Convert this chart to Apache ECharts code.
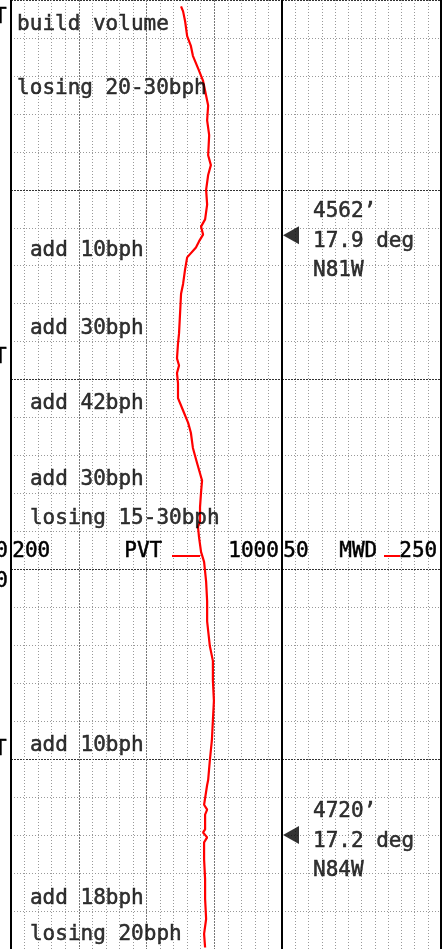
<!DOCTYPE html>
<html>
<head>
<meta charset="utf-8">
<title>PVT / MWD log</title>
<script src="https://cdn.jsdelivr.net/npm/echarts@6/dist/echarts.min.js"></script>
<style>
  html, body { margin: 0; padding: 0; background: #fff; }
  #chart { width: 442px; height: 949px; }
</style>
</head>
<body>
<div id="chart"></div>
<script>
const pvtDepth = [4501.7, 4503.0, 4505.6, 4509.5, 4512.1, 4514.7, 4518.6, 4521.3, 4523.9, 4527.8,
  4531.7, 4535.6, 4540.9, 4543.5, 4546.1, 4550.0, 4553.9, 4557.8, 4559.7, 4561.8,
  4563.6, 4565.2, 4567.8, 4570.9, 4574.8, 4577.4, 4582.7, 4587.9, 4590.5, 4594.4,
  4596.3, 4598.3, 4601.0, 4604.9, 4608.8, 4611.4, 4614.0, 4618.0, 4621.9, 4626.6,
  4629.7, 4633.6, 4637.5, 4638.8, 4641.5, 4645.4, 4648.0, 4650.6, 4653.2, 4658.4,
  4663.7, 4670.2, 4674.1, 4679.3, 4684.6, 4689.8, 4695.0, 4700.3, 4705.5, 4706.8,
  4712.0, 4713.3, 4714.6, 4718.5, 4719.3, 4720.6, 4721.9, 4726.4, 4731.6, 4736.8,
  4742.1, 4746.0, 4749.6];
const pvtValue = [702, 708, 714, 720, 731, 737, 755, 767, 773, 782,
  779, 785, 782, 790, 782, 776, 779, 773, 761, 767,
  755, 746, 720, 714, 708, 702, 699, 696, 693, 690,
  696, 690, 693, 693, 711, 723, 731, 737, 749, 764,
  761, 758, 758, 752, 755, 761, 770, 773, 776, 779,
  779, 787, 796, 796, 799, 796, 793, 787, 782, 779,
  770, 779, 773, 773, 767, 779, 770, 770, 773, 773,
  776, 770, 773];

// remarks written in the PVT track
const noteDepth = [4506.4, 4523.3, 4565.9, 4586.6, 4606.4, 4626.3, 4636.5, 4696.3, 4736.6, 4746.3];
const noteText = ['build volume', 'losing 20-30bph', 'add 10bph', 'add 30bph', 'add 42bph',
  'add 30bph', 'losing 15-30bph', 'add 10bph', 'add 18bph', 'losing 20bph'];

// MWD surveys
const surveyDepth = [4562, 4720];
const surveyInc = ['17.9', '17.2'];
const surveyAzi = ['N81W', 'N84W'];

// track scales and depth window
const pvtRange = [200, 1000];
const mwdRange = [50, 250];
const depthRange = [4500, 4750];

const chart = echarts.init(document.getElementById('chart'));
const mono = 'DejaVu Sans Mono';
const pxPerFt = 3.8267;

const minorLine = { show: true, lineStyle: { color: '#999', width: 1, type: [1, 2] } };
const majorH = { show: true, lineStyle: { color: '#333', width: 1, type: [2, 1] } };
const majorV = { show: true, lineStyle: { color: '#777', width: 1, type: [2, 1] } };
const hidden = { show: false };

const gridTop = -6.33;
const gridH = (depthRange[1] - depthRange[0]) * pxPerFt;

const yAxisBase = {
  type: 'value', inverse: true, min: depthRange[0], max: depthRange[1], interval: 50,
  axisLabel: hidden, axisTick: hidden, axisLine: hidden,
  splitLine: majorH, minorTick: { show: false, splitNumber: 5 }, minorSplitLine: minorLine
};

// plain black mono text, a touch heavier like the plotter font
const txt = (extra) => Object.assign({
  font: '21px ' + mono, fill: '#000', stroke: '#000', lineWidth: 0.5
}, extra);

const option = {
  animation: false,
  backgroundColor: '#fff',
  grid: [
    { left: 11, top: gridTop, width: 271, height: gridH },
    { left: 282, top: gridTop, width: 159, height: gridH }
  ],
  xAxis: [
    {
      gridIndex: 0, type: 'value', min: pvtRange[0], max: pvtRange[1], interval: 200,
      axisLabel: hidden, axisTick: hidden, axisLine: hidden,
      splitLine: majorV, minorTick: { show: false, splitNumber: 5 }, minorSplitLine: minorLine
    },
    {
      gridIndex: 1, type: 'value', min: mwdRange[0], max: mwdRange[1],
      interval: (mwdRange[1] - mwdRange[0]) / 12,
      axisLabel: hidden, axisTick: hidden, axisLine: hidden,
      splitLine: minorLine
    }
  ],
  yAxis: [
    Object.assign({ gridIndex: 0 }, yAxisBase),
    Object.assign({ gridIndex: 1 }, yAxisBase)
  ],
  series: [
    {
      type: 'line', xAxisIndex: 0, yAxisIndex: 0,
      data: pvtDepth.map((d, i) => [pvtValue[i], d]),
      showSymbol: false, symbol: 'none',
      lineStyle: { color: '#ff0000', width: 2.2 },
      z: 5
    },
    {
      type: 'scatter', xAxisIndex: 0, yAxisIndex: 0, symbolSize: 0,
      data: noteDepth.map((d, i) => ({ value: [d < 4530 ? 218 : 256, d], name: noteText[i] })),
      label: {
        show: true, position: 'right', distance: 0, formatter: p => p.name,
        fontFamily: mono, fontSize: 21, color: '#000',
        textBorderColor: '#000', textBorderWidth: 0.5
      },
      z: 6
    },
    {
      type: 'scatter', xAxisIndex: 1, yAxisIndex: 1,
      symbol: 'triangle', symbolRotate: 90, symbolSize: [18, 16],
      itemStyle: { color: '#000' },
      data: surveyDepth.map((d, i) => ({
        value: [61.3, d], name: d + '\u2019\n' + surveyInc[i] + ' deg\n' + surveyAzi[i]
      })),
      label: {
        show: true, position: 'right', distance: 5, offset: [9, 6], formatter: p => p.name,
        fontFamily: mono, fontSize: 21, lineHeight: 29.5, color: '#000', align: 'left',
        textBorderColor: '#000', textBorderWidth: 0.5
      },
      z: 6
    }
  ],
  graphic: [
    // track borders
    { type: 'line', shape: { x1: 11, y1: 0, x2: 11, y2: 949 }, style: { stroke: '#000', lineWidth: 2 }, z: 10 },
    { type: 'line', shape: { x1: 282, y1: 0, x2: 282, y2: 949 }, style: { stroke: '#000', lineWidth: 2 }, z: 10 },
    { type: 'line', shape: { x1: 441, y1: 0, x2: 441, y2: 949 }, style: { stroke: '#000', lineWidth: 2 }, z: 10 },
    // repeated track header
    { type: 'text', left: 12, top: 541, style: txt({ text: '200' }), z: 10 },
    { type: 'text', left: 124, top: 541, style: txt({ text: 'PVT' }), z: 10 },
    { type: 'line', shape: { x1: 172, y1: 556, x2: 200, y2: 556 }, style: { stroke: '#ff0000', lineWidth: 2 }, z: 10 },
    { type: 'text', left: 228, top: 541, style: txt({ text: '1000' }), z: 10 },
    { type: 'text', left: 283, top: 541, style: txt({ text: '50' }), z: 10 },
    { type: 'text', left: 339, top: 541, style: txt({ text: 'MWD' }), z: 10 },
    { type: 'line', shape: { x1: 384, y1: 556, x2: 400, y2: 556 }, style: { stroke: '#ff0000', lineWidth: 2 }, z: 10 },
    { type: 'text', left: 399, top: 541, style: txt({ text: '250' }), z: 10 },
    // clipped glyphs of the depth track on the left
    { type: 'text', x: 8, y: 552, style: txt({ text: '0', align: 'right', verticalAlign: 'middle' }), z: 10 },
    { type: 'text', x: 8, y: 582, style: txt({ text: '0', align: 'right', verticalAlign: 'middle' }), z: 10 },
    { type: 'text', x: -6, y: 18, style: txt({ text: 'T', align: 'left', verticalAlign: 'middle' }), z: 10 },
    { type: 'text', x: -6, y: 358, style: txt({ text: 'T', align: 'left', verticalAlign: 'middle' }), z: 10 },
    { type: 'text', x: -6, y: 750, style: txt({ text: 'T', align: 'left', verticalAlign: 'middle' }), z: 10 }
  ]
};

chart.setOption(option);
window.addEventListener('resize', () => chart.resize());
</script>
</body>
</html>
